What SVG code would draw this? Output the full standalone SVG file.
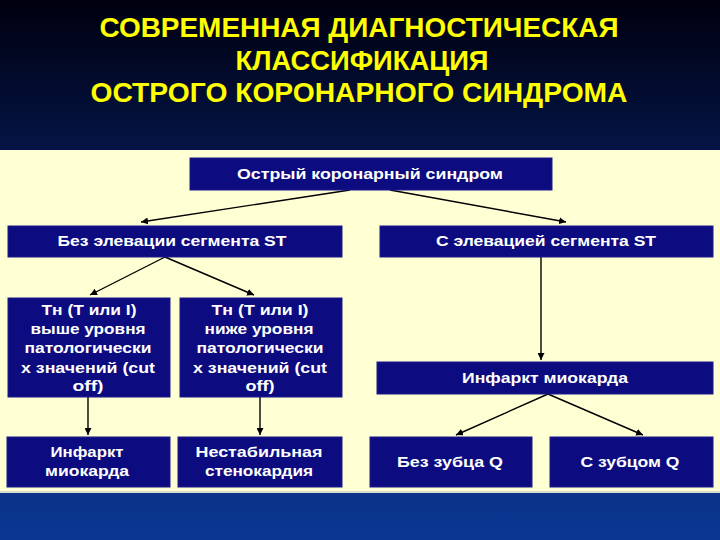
<svg xmlns="http://www.w3.org/2000/svg" width="720" height="540" viewBox="0 0 720 540">
<defs>
<linearGradient id="bg" x1="0" y1="0" x2="0" y2="1">
<stop offset="0" stop-color="#00000e"/>
<stop offset="0.35" stop-color="#061a55"/>
<stop offset="1" stop-color="#0b3792"/>
</linearGradient>
<marker id="ah" viewBox="0 0 10 10" refX="10" refY="5" markerWidth="7" markerHeight="7" orient="auto" markerUnits="userSpaceOnUse">
<path d="M0,0 L10,5 L0,10 z" fill="#000"/>
</marker>
<style>
.box{fill:#0c0c80;stroke:#1a1a8c;stroke-width:1}
.t{font-family:"Liberation Sans",Arial,sans-serif;font-weight:bold;font-size:15px;fill:#ffffff;text-anchor:middle}
.title{font-family:"Liberation Sans",Arial,sans-serif;font-weight:bold;font-size:28px;fill:#ffff00;text-anchor:middle}
.c{stroke:#000;stroke-width:1.4;fill:none;marker-end:url(#ah)}
</style>
</defs>
<rect x="0" y="0" width="720" height="540" fill="url(#bg)"/>
<rect x="0" y="150" width="720" height="341" fill="#ffffd4"/>
<rect x="0" y="491" width="720" height="2" fill="#d8dcc8"/>
<g id="title">
<text class="title" x="359" y="37" textLength="519" lengthAdjust="spacingAndGlyphs">СОВРЕМЕННАЯ ДИАГНОСТИЧЕСКАЯ</text>
<text class="title" x="362" y="70" textLength="253" lengthAdjust="spacingAndGlyphs">КЛАССИФИКАЦИЯ</text>
<text class="title" x="359" y="102" textLength="537" lengthAdjust="spacingAndGlyphs">ОСТРОГО КОРОНАРНОГО СИНДРОМА</text>
</g>
<g id="connectors">
<line class="c" x1="350" y1="190" x2="141" y2="222"/>
<line class="c" x1="390" y1="190" x2="566" y2="222"/>
<line class="c" x1="165" y1="257" x2="90" y2="295"/>
<line class="c" x1="165" y1="257" x2="254" y2="295"/>
<line class="c" x1="88" y1="397" x2="88" y2="435"/>
<line class="c" x1="260" y1="397" x2="260" y2="435"/>
<line class="c" x1="541" y1="257" x2="541" y2="360"/>
<line class="c" x1="548" y1="394" x2="456" y2="435"/>
<line class="c" x1="548" y1="394" x2="643" y2="435"/>
</g>
<g id="acs">
<rect class="box" x="190" y="158" width="362" height="32"/>
<text class="t" x="370" y="179" textLength="266" lengthAdjust="spacingAndGlyphs">Острый коронарный синдром</text>
</g>
<g id="no-st">
<rect class="box" x="8" y="226" width="334" height="31"/>
<text class="t" x="172" y="246" textLength="229" lengthAdjust="spacingAndGlyphs">Без элевации сегмента ST</text>
</g>
<g id="st">
<rect class="box" x="380" y="226" width="333" height="31"/>
<text class="t" x="546" y="246" textLength="220" lengthAdjust="spacingAndGlyphs">С элевацией сегмента ST</text>
</g>
<g id="tn-high">
<rect class="box" x="8" y="298" width="162" height="99"/>
<text class="t" x="89" y="315" textLength="95" lengthAdjust="spacingAndGlyphs">Тн (Т или I)</text>
<text class="t" x="88" y="334" textLength="115" lengthAdjust="spacingAndGlyphs">выше уровня</text>
<text class="t" x="88" y="353" textLength="127" lengthAdjust="spacingAndGlyphs">патологически</text>
<text class="t" x="88" y="372.5" textLength="134" lengthAdjust="spacingAndGlyphs">х значений (cut</text>
<text class="t" x="88" y="391" textLength="31" lengthAdjust="spacingAndGlyphs">off)</text>
</g>
<g id="tn-low">
<rect class="box" x="180" y="298" width="162" height="99"/>
<text class="t" x="260" y="315" textLength="97" lengthAdjust="spacingAndGlyphs">Тн (Т или I)</text>
<text class="t" x="259" y="334" textLength="109" lengthAdjust="spacingAndGlyphs">ниже уровня</text>
<text class="t" x="260" y="353" textLength="127" lengthAdjust="spacingAndGlyphs">патологически</text>
<text class="t" x="260" y="372.5" textLength="134" lengthAdjust="spacingAndGlyphs">х значений (cut</text>
<text class="t" x="260" y="391" textLength="29" lengthAdjust="spacingAndGlyphs">off)</text>
</g>
<g id="mi-left">
<rect class="box" x="7" y="437" width="163" height="50"/>
<text class="t" x="87" y="457" textLength="73" lengthAdjust="spacingAndGlyphs">Инфаркт</text>
<text class="t" x="87" y="476" textLength="84" lengthAdjust="spacingAndGlyphs">миокарда</text>
</g>
<g id="unstable">
<rect class="box" x="178" y="437" width="164" height="50"/>
<text class="t" x="259" y="457" textLength="127" lengthAdjust="spacingAndGlyphs">Нестабильная</text>
<text class="t" x="259" y="476" textLength="108" lengthAdjust="spacingAndGlyphs">стенокардия</text>
</g>
<g id="mi-right">
<rect class="box" x="377" y="362" width="336" height="32"/>
<text class="t" x="545" y="383" textLength="166" lengthAdjust="spacingAndGlyphs">Инфаркт миокарда</text>
</g>
<g id="no-q">
<rect class="box" x="370" y="437" width="162" height="50"/>
<text class="t" x="450" y="467" textLength="106" lengthAdjust="spacingAndGlyphs">Без зубца Q</text>
</g>
<g id="q">
<rect class="box" x="550" y="437" width="163" height="50"/>
<text class="t" x="630" y="467" textLength="99" lengthAdjust="spacingAndGlyphs">С зубцом Q</text>
</g>
</svg>
